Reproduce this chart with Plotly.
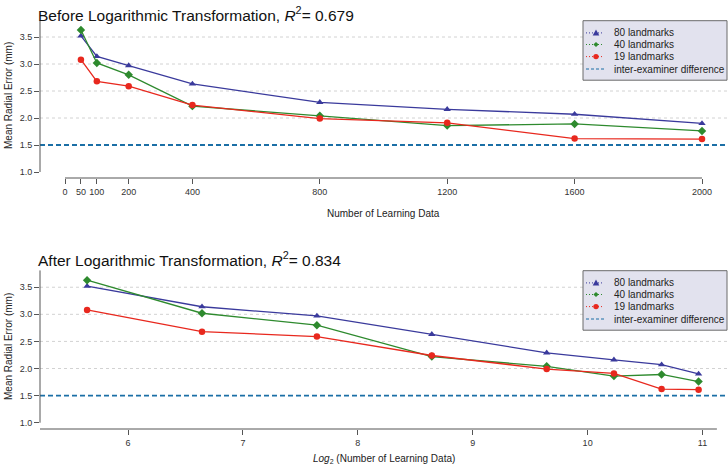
import numpy as np
import plotly.graph_objects as go

# ---------------- data ----------------
n_learning = [50, 100, 200, 400, 800, 1200, 1600, 2000]
err_80 = [3.52, 3.14, 2.97, 2.63, 2.29, 2.16, 2.07, 1.90]
err_40 = [3.63, 3.02, 2.80, 2.22, 2.04, 1.86, 1.89, 1.76]
err_19 = [3.08, 2.68, 2.59, 2.24, 1.99, 1.91, 1.62, 1.61]
inter_examiner = 1.5
x_ticks_top = [0, 50, 100, 200, 400, 800, 1200, 1600, 2000]
x_ticks_bottom = [6, 7, 8, 9, 10, 11]
y_ticks = [1.0, 1.5, 2.0, 2.5, 3.0, 3.5]
grid_vals = [2.0, 2.5, 3.0, 3.5]
series_names = ["80 landmarks", "40 landmarks", "19 landmarks"]
line_name = "inter-examiner difference"
title_top = "Before Logarithmic Transformation, <i>R</i><sup>2</sup>= 0.679"
title_bottom = "After Logarithmic Transformation, <i>R</i><sup>2</sup>= 0.834"

W, H = 728, 467
def px(x):
    return x / W
def py(y):
    return 1 - y / H

log_x = list(np.log2(n_learning))

colors = ["#3a3a9c", "#2e8a2e", "#e8281e"]
symbols = ["triangle-up", "diamond", "circle"]
series = [err_80, err_40, err_19]
dash_col = "#1b6fa6"
axis_col = "#555555"
font_fam = "Liberation Sans, Arial, sans-serif"

fig = go.Figure()

for xs, xa, ya in [(n_learning, "x", "y"), (log_x, "x2", "y2")]:
    for name, vals, c, s in zip(series_names, series, colors, symbols):
        fig.add_trace(go.Scatter(
            x=xs, y=vals, mode="lines+markers", xaxis=xa, yaxis=ya, name=name,
            line=dict(color=c, width=1.3),
            marker=dict(symbol=s, size=6.5, color=c),
            showlegend=False))

shapes = []
for ya, xa in [("y", "x"), ("y2", "x2")]:
    for v in grid_vals:
        shapes.append(dict(type="line", xref=f"{xa} domain", yref=ya,
                           x0=0, x1=1, y0=v, y1=v, layer="below",
                           line=dict(color="#d2d2d2", width=1, dash="3px,3px")))
    shapes.append(dict(type="line", xref=f"{xa} domain", yref=ya,
                       x0=0, x1=1, y0=inter_examiner, y1=inter_examiner,
                       line=dict(color=dash_col, width=1.8, dash="5px,3px")))
    shapes.append(dict(type="line", xref=f"{xa} domain", yref=ya,
                       x0=0, x1=0, y0=y_ticks[0], y1=3.81,
                       line=dict(color=axis_col, width=1)))

shapes.append(dict(type="line", xref="x", yref="y domain",
                   x0=x_ticks_top[0], x1=x_ticks_top[-1], y0=0, y1=0,
                   line=dict(color=axis_col, width=1)))
shapes.append(dict(type="line", xref="x2 domain", yref="y2 domain",
                   x0=0, x1=0.9853, y0=0, y1=0,
                   line=dict(color=axis_col, width=1)))

font_txt = dict(family=font_fam, size=10, color="#222222")
annotations = [
    dict(text=title_top, x=px(36), y=py(2), xref="paper", yref="paper",
         xanchor="left", yanchor="top", showarrow=False,
         font=dict(family=font_fam, size=15.5, color="#111111")),
    dict(text=title_bottom, x=px(36), y=py(247), xref="paper", yref="paper",
         xanchor="left", yanchor="top", showarrow=False,
         font=dict(family=font_fam, size=15.5, color="#111111")),
    dict(text="Number of Learning Data", x=px(383.5), y=py(213), xref="paper",
         yref="paper", xanchor="center", yanchor="middle", showarrow=False,
         font=font_txt),
    dict(text="<i>Log</i><sub>2</sub> (Number of Learning Data)", x=px(383.5),
         y=py(459), xref="paper", yref="paper", xanchor="center",
         yanchor="middle", showarrow=False, font=font_txt),
    dict(text="Mean Radial Error (mm)", x=px(8), y=py(96), xref="paper",
         yref="paper", xanchor="center", yanchor="middle", textangle=-90,
         showarrow=False, font=font_txt),
    dict(text="Mean Radial Error (mm)", x=px(8), y=py(347), xref="paper",
         yref="paper", xanchor="center", yanchor="middle", textangle=-90,
         showarrow=False, font=font_txt),
]

# ---- hand-drawn legends (R-style), one per panel ----
def tri(cx, cy, r):
    return (f"M {px(cx - r)},{py(cy + r * 0.8)} L {px(cx + r)},{py(cy + r * 0.8)} "
            f"L {px(cx)},{py(cy - r)} Z")
def dia(cx, cy, r):
    return (f"M {px(cx - r)},{py(cy)} L {px(cx)},{py(cy - r)} "
            f"L {px(cx + r)},{py(cy)} L {px(cx)},{py(cy + r)} Z")

for top in [20.7, 270.7]:
    shapes.append(dict(type="rect", xref="paper", yref="paper",
                       x0=px(583), x1=px(727), y0=py(top), y1=py(top + 59.5),
                       fillcolor="#e2e2ee", line=dict(color="#6a6a6a", width=1)))
    rows = [top + 12.2, top + 23.8, top + 35.9, top + 48.3]
    for i, yy in enumerate(rows):
        if i < 3:
            c = colors[i]
            shapes.append(dict(type="line", xref="paper", yref="paper",
                               x0=px(586), x1=px(604), y0=py(yy), y1=py(yy),
                               line=dict(color=c, width=1, dash="1px,2px")))
            if i == 0:
                shapes.append(dict(type="path", xref="paper", yref="paper",
                                   path=tri(596, yy, 3.3), fillcolor=c,
                                   line=dict(width=0)))
            elif i == 1:
                shapes.append(dict(type="path", xref="paper", yref="paper",
                                   path=dia(596, yy, 2.6), fillcolor=c,
                                   line=dict(width=0)))
            else:
                shapes.append(dict(type="circle", xref="paper", yref="paper",
                                   x0=px(593.3), x1=px(598.7), y0=py(yy - 2.7),
                                   y1=py(yy + 2.7), fillcolor=c,
                                   line=dict(width=0)))
            label = series_names[i]
        else:
            shapes.append(dict(type="line", xref="paper", yref="paper",
                               x0=px(586), x1=px(604), y0=py(yy), y1=py(yy),
                               line=dict(color=dash_col, width=1.2, dash="3px,2px")))
            label = line_name
        annotations.append(dict(text=label, x=px(612), y=py(yy), xref="paper",
                                yref="paper", xanchor="left", yanchor="middle",
                                showarrow=False,
                                font=dict(family=font_fam, size=10, color="#222222")))

tickfont = dict(family=font_fam, size=9, color="#333333")
common_x = dict(showgrid=False, zeroline=False, showline=False, ticks="outside",
                ticklen=5, tickcolor=axis_col, tickfont=tickfont)
common_y = dict(showgrid=False, zeroline=False, showline=False, ticks="outside",
                ticklen=5, tickcolor=axis_col, tickfont=tickfont,
                tickvals=y_ticks, tickformat=".1f")

fig.update_layout(
    width=W, height=H, margin=dict(l=0, r=0, t=0, b=0, pad=0),
    paper_bgcolor="white", plot_bgcolor="white", showlegend=False,
    font=dict(family=font_fam), hovermode=False,
    xaxis=dict(domain=[px(40), px(727)], range=[-78.5, 2078.5],
               tickvals=x_ticks_top, anchor="y", **common_x),
    yaxis=dict(domain=[py(178), py(14)], range=[0.889, 3.926], anchor="x",
               **common_y),
    xaxis2=dict(domain=[px(40), px(727)], range=[5.234, 11.213],
                tickvals=x_ticks_bottom, anchor="y2", **common_x),
    yaxis2=dict(domain=[py(429), py(265)], range=[0.884, 3.91], anchor="x2",
                **common_y),
    shapes=shapes,
    annotations=annotations,
)

fig.write_html("out.html", config={"displayModeBar": False},
               post_script="document.body.style.margin='0';document.body.style.overflow='hidden';")
